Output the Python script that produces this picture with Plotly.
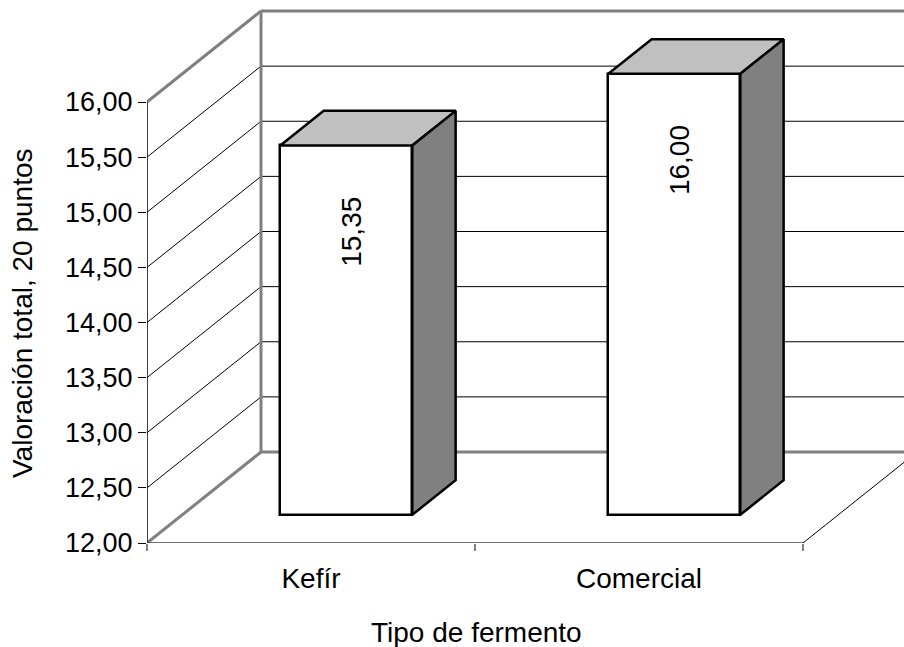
import plotly.graph_objects as go

# Data
categories = ["Kefír", "Comercial"]
values = [15.35, 16.00]
value_labels = ["15,35", "16,00"]
y_ticks = [12.0, 12.5, 13.0, 13.5, 14.0, 14.5, 15.0, 15.5, 16.0]
y_tick_text = ["12,00", "12,50", "13,00", "13,50", "14,00", "14,50", "15,00", "15,50", "16,00"]
y_min = 12.0

# Pseudo-3D geometry (in axis units)
WALL_DU = 114 / 328      # depth offset along x
WALL_DV = 91 / 110.25    # depth offset along y
BAR_FRONT = 0.31         # depth fraction of the bar's front face
BAR_BACK = 0.69          # depth fraction of the bar's back face
BAR_W = 0.4024
N = len(categories)
X_MAX = 2.308
Y_MAX = 12 + 543 / 110.25

W, H = 904, 647
ML, MB = 147, 104
FONT = "Liberation Sans, Arial, sans-serif"
WALL = "#808080"

fig = go.Figure()
shapes = []


def seg(x0, y0, x1, y1, color="black", width=1):
    shapes.append(dict(type="line", xref="x", yref="y", x0=x0, y0=y0, x1=x1, y1=y1,
                       line=dict(color=color, width=width), layer="below"))


# Left wall diagonals and back-wall gridlines
for v in y_ticks:
    edge = v in (y_ticks[0], y_ticks[-1])
    col, w = (WALL, 3) if edge else ("black", 1)
    seg(0, v, WALL_DU, v + WALL_DV, col, w)
    seg(WALL_DU, v + WALL_DV, X_MAX + 1, v + WALL_DV, col, w)
# Back wall left edge
seg(WALL_DU, y_min + WALL_DV, WALL_DU, y_ticks[-1] + WALL_DV, WALL, 3)
# Floor: right diagonal
seg(N, y_min, N + WALL_DU, y_min + WALL_DV, "black", 1)

# Front axes
seg(0, y_min, 0, y_ticks[-1], "black", 1.5)
seg(0, y_min, N, y_min, "#404040", 1.5)

fu, fv = BAR_FRONT * WALL_DU, BAR_FRONT * WALL_DV
bu, bv = BAR_BACK * WALL_DU, BAR_BACK * WALL_DV
xc = [i + 0.5 + fu for i in range(N)]

# Front faces
fig.add_trace(go.Bar(
    x=xc, y=[v - y_min for v in values], base=[y_min + fv] * N, width=BAR_W,
    marker=dict(color="white", line=dict(color="black", width=2.5)),
    hoverinfo="skip", showlegend=False,
))

# Top and side faces
for i, v in enumerate(values):
    x0 = i + 0.5 - BAR_W / 2
    x1 = i + 0.5 + BAR_W / 2
    top_x = [x0 + fu, x1 + fu, x1 + bu, x0 + bu, x0 + fu]
    top_y = [v + fv, v + fv, v + bv, v + bv, v + fv]
    fig.add_trace(go.Scatter(x=top_x, y=top_y, mode="lines", fill="toself",
                             fillcolor="#C0C0C0", line=dict(color="black", width=2.5),
                             hoverinfo="skip", showlegend=False))
    side_x = [x1 + fu, x1 + fu, x1 + bu, x1 + bu, x1 + fu]
    side_y = [y_min + fv, v + fv, v + bv, y_min + bv, y_min + fv]
    fig.add_trace(go.Scatter(x=side_x, y=side_y, mode="lines", fill="toself",
                             fillcolor="#808080", line=dict(color="black", width=2.5),
                             hoverinfo="skip", showlegend=False))

annotations = []
for i, v in enumerate(values):
    annotations.append(dict(x=xc[i], y=v + fv - 0.78, xref="x", yref="y", xshift=5,
                            text=value_labels[i], textangle=-90, showarrow=False,
                            xanchor="center", yanchor="middle",
                            font=dict(family=FONT, size=28, color="black")))

# Axis titles, positioned in paper units of the plotting area
pw, ph = W - ML, H - MB
annotations.append(dict(x=(22 - ML) / pw, y=(H - MB - 314) / ph, xref="paper", yref="paper",
                        xanchor="center", yanchor="middle",
                        text="Valoración total, 20 puntos", textangle=-90, showarrow=False,
                        font=dict(family=FONT, size=28, color="black")))
annotations.append(dict(x=(476 - ML) / pw, y=(H - MB - 632) / ph, xref="paper", yref="paper",
                        xanchor="center", yanchor="middle",
                        text="Tipo de fermento", showarrow=False,
                        font=dict(family=FONT, size=28, color="black")))

fig.update_layout(
    width=W, height=H,
    margin=dict(l=ML, r=0, t=0, b=MB),
    paper_bgcolor="white", plot_bgcolor="white",
    shapes=shapes, annotations=annotations,
    bargap=0,
    xaxis=dict(range=[0, X_MAX], showgrid=False, zeroline=False, showline=False,
               tickvals=[i + 0.5 for i in range(N)], ticktext=categories, ticks="",
               ticklabelstandoff=16,
               tickfont=dict(family=FONT, size=28, color="black"),
               minor=dict(tickvals=list(range(N + 1)), ticks="outside", ticklen=7,
                          tickcolor=WALL, tickwidth=2, showgrid=False)),
    yaxis=dict(range=[y_min, Y_MAX], showgrid=False, zeroline=False, showline=False,
               tickvals=y_ticks, ticktext=y_tick_text, ticks="outside", ticklen=8,
               tickcolor="black", tickwidth=1,
               tickfont=dict(family=FONT, size=27, color="black")),
)

fig.write_html("out.html")
